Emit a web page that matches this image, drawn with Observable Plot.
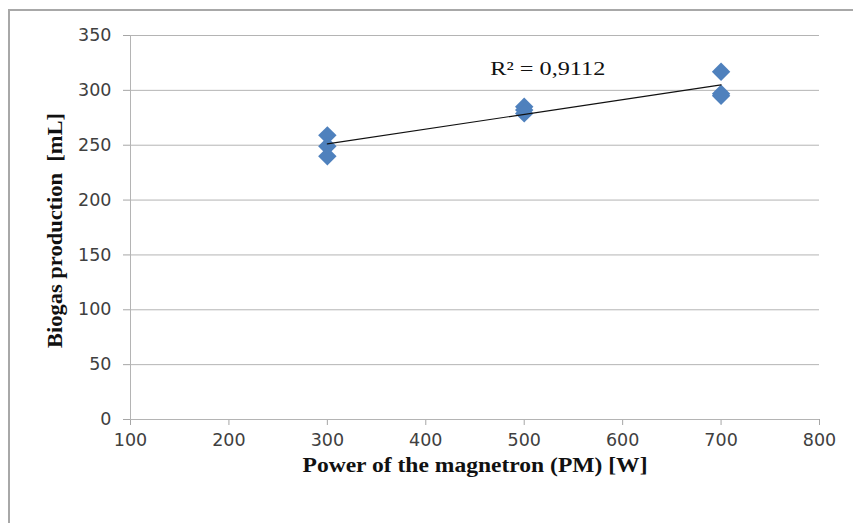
<!DOCTYPE html>
<html><head><meta charset="utf-8">
<script src="https://cdn.jsdelivr.net/npm/d3@7"></script>
<script src="https://cdn.jsdelivr.net/npm/@observablehq/plot@0.6"></script>
<style>
body{margin:0;background:#fff;}
#wrap{position:relative;width:853px;height:523px;overflow:hidden;}
#frame{position:absolute;left:8px;top:9px;width:900px;height:600px;border-left:2px solid #a8a8a8;border-top:2px solid #a8a8a8;}
#chart{position:absolute;left:0;top:0;}
g[aria-label$="-axis tick"]{stroke:#a6a6a6;}
.tick line{stroke:#a6a6a6;}
</style></head><body>
<div id="wrap"><div id="frame"></div><div id="chart"></div></div>
<script>
const power  = [300, 300, 300, 500, 500, 500, 700, 700, 700];
const biogas = [259, 249, 240, 285, 282, 279, 317, 297, 295];
const xTicks = [100, 200, 300, 400, 500, 600, 700, 800];
const yTicks = [0, 50, 100, 150, 200, 250, 300, 350];
const xLabel = "Power of the magnetron (PM) [W]";
const yLabel = "Biogas production  [mL]";
const r2Label = "R² = 0,9112";
const r2Anchor = [{x: 524, y: 320, text: r2Label}];

const data = power.map((p, i) => ({power: p, biogas: biogas[i]}));

const chart = Plot.plot({
  width: 853, height: 523,
  marginLeft: 130, marginRight: 34, marginTop: 35, marginBottom: 104,
  style: {background: "transparent", fontFamily: "DejaVu Sans", fontSize: "17.5px", color: "#404040"},
  x: {domain: [100, 800], ticks: xTicks, tickSize: 6, tickPadding: 8, label: null, tickFormat: d => String(d)},
  y: {domain: [0, 350], ticks: yTicks, tickSize: 7, tickPadding: 12, label: null, tickFormat: d => String(d)},
  marks: [
    Plot.ruleY(yTicks, {stroke: "#b4b4b4", strokeWidth: 1}),
    Plot.ruleX([xTicks[0]], {stroke: "#b4b4b4", strokeWidth: 1}),
    Plot.dot(data, {x: "power", y: "biogas", symbol: "diamond2", r: 8.3, fill: "#4F81BD", stroke: "none"}),
    Plot.linearRegressionY(data, {x: "power", y: "biogas", stroke: "#111", strokeWidth: 1.2, ci: 0}),
    Plot.text(r2Anchor, {x: "x", y: "y", text: "text", fontFamily: "Liberation Serif", fontSize: 19, fill: "#111", textAnchor: "middle"}),
    Plot.text([xLabel], {frameAnchor: "bottom", dy: 52, text: d => d, fontFamily: "Liberation Serif", fontWeight: "bold", fontSize: 20, fill: "#111", textAnchor: "middle"}),
    Plot.text([yLabel], {frameAnchor: "left", dx: -75, dy: 3, rotate: -90, text: d => d, fontFamily: "Liberation Serif", fontWeight: "bold", fontSize: 20, fill: "#111", textAnchor: "middle"})
  ]
});
document.getElementById("chart").appendChild(chart);

const lengths = new Map([[xLabel, 345], [yLabel, 235], [r2Label, 115]]);
chart.querySelectorAll("text").forEach(t => {
  const L = lengths.get(t.textContent);
  if (L) { t.setAttribute("textLength", L); t.setAttribute("lengthAdjust", "spacingAndGlyphs"); }
});
</script>
</body></html>
